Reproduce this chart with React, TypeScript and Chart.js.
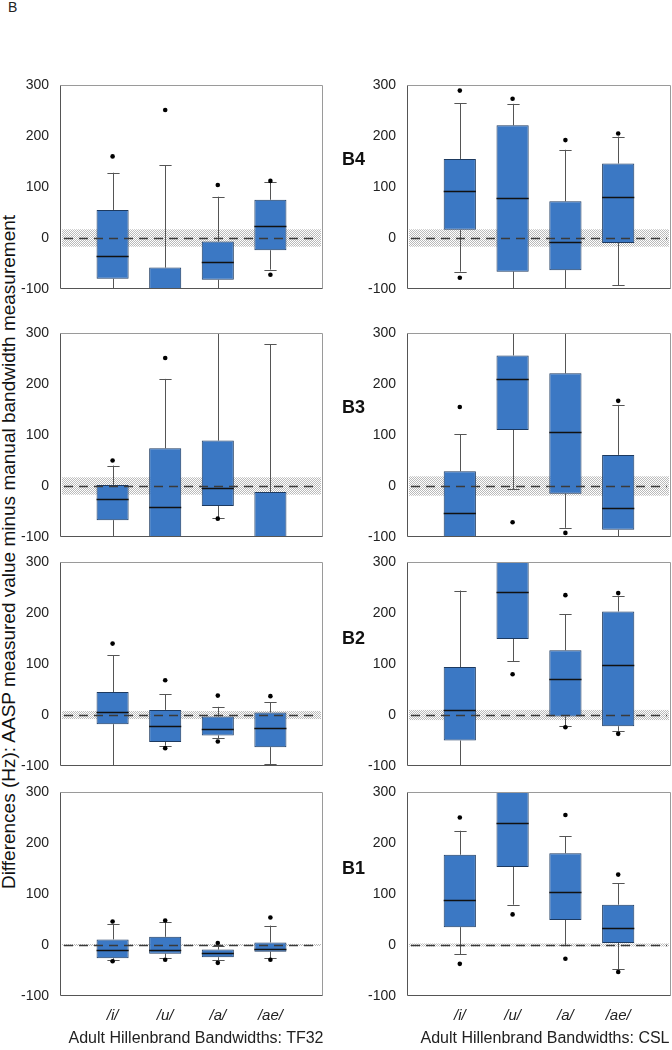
import React, { useEffect, useRef } from 'react';
import { Chart, registerables } from 'chart.js';

Chart.register(...registerables);
Chart.defaults.font.family = "'Liberation Sans', Arial, sans-serif";

const categories = ['/i/', '/u/', '/a/', '/ae/'];
const yMin = -100;
const yMax = 300;
const yStep = 100;

// each box: [whiskerLow, q1, median, q3, whiskerHigh]
const tf32Row1Boxes = [[-120, -80, -35, 55, 128], [-200, -130, -110, -58, 143], [-120, -82, -47, -7, 81], [-62, -24, 23, 75, 109]];
const tf32Row1Outliers = [[160], [251], [104], [112, -72]];
const cslB4Boxes = [[-66, 16, 92, 155, 264], [-130, -66, 79, 221, 263], [-120, -63, -8, 72, 173], [-93, -10, 81, 146, 199]];
const cslB4Outliers = [[289, -78], [273], [192], [205]];

const tf32Row2Boxes = [[-98, -67, -25, 2, 40], [-200, -130, -42, 74, 210], [-63, -39, -4, 89, 340], [-200, -140, -120, -12, 278]];
const tf32Row2Outliers = [[50], [251], [-64], []];
const cslB3Boxes = [[-160, -120, -53, 29, 101], [-6, 110, 209, 256, 340], [-82, -15, 105, 221, 340], [-120, -86, -44, 61, 159]];
const cslB3Outliers = [[155], [-71], [-92], [167]];

const tf32Row3Boxes = [[-110, -18, 6, 45, 117], [-60, -53, -22, 10, 41], [-46, -40, -28, -3, 16], [-96, -63, -26, 5, 25]];
const tf32Row3Outliers = [[140], [68, -65], [38, -52], [37]];
const cslB2Boxes = [[-130, -50, 9, 94, 244], [105, 149, 241, 320, 380], [-21, -3, 70, 127, 198], [-31, -22, 98, 203, 233]];
const cslB2Outliers = [[], [80], [235, -24], [239, -37]];

const tf32Row4Boxes = [[-30, -26, -10, 11, 41], [-25, -17, -10, 16, 45], [-30, -24, -15, -9, -1], [-26, -13, -7, 5, 38]];
const tf32Row4Outliers = [[46, -32], [48, -29], [4, -35], [54, -29]];
const cslB1Boxes = [[-18, 35, 88, 177, 224], [79, 153, 240, 320, 380], [0, 49, 104, 180, 213], [-48, 4, 33, 79, 121]];
const cslB1Outliers = [[250, -37], [60], [255, -27], [138, -53]];

const tf32BandHalf = [17, 17, 8, 2];
const cslBandHalf = [17, 19, 10, 3];
const panelLabels = ['B4', 'B3', 'B2', 'B1'];
const xTitleLeft = 'Adult Hillenbrand Bandwidths: TF32';
const xTitleRight = 'Adult Hillenbrand Bandwidths: CSL';
const yTitle = 'Differences (Hz): AASP measured value minus manual bandwidth measurement';

const BOX_FILL = '#3b78c4';
const BOX_EDGE = '#1d3a60';
const WHISKER = '#555555';

function makeStipple(ctx: CanvasRenderingContext2D) {
  const c = document.createElement('canvas');
  c.width = 2;
  c.height = 2;
  const g = c.getContext('2d')!;
  g.fillStyle = '#bababa';
  g.fillRect(0, 0, 1, 1);
  g.fillRect(1, 1, 1, 1);
  return ctx.createPattern(c, 'repeat');
}

function makeBoxPlugin(boxes: number[][], outliers: number[][], band: number) {
  return {
    id: 'boxplotDecor',
    beforeDatasetsDraw(chart: any) {
      const { ctx, chartArea: a, scales } = chart;
      const y = scales.y;
      ctx.save();
      ctx.beginPath();
      ctx.rect(a.left, a.top, a.right - a.left, a.bottom - a.top);
      ctx.clip();
      const yT = y.getPixelForValue(band);
      const yB = y.getPixelForValue(-band);
      const pat = makeStipple(ctx);
      if (pat) ctx.fillStyle = pat;
      ctx.fillRect(a.left + 2, yT, a.right - a.left - 4, Math.max(1.5, yB - yT));
      const meta = chart.getDatasetMeta(0);
      boxes.forEach((b, i) => {
        const el: any = meta.data[i + 1];
        if (!el) return;
        const x = Math.round(el.x) + 0.5;
        ctx.strokeStyle = WHISKER;
        ctx.lineWidth = 1;
        ctx.beginPath();
        ctx.moveTo(x, y.getPixelForValue(b[3]));
        ctx.lineTo(x, y.getPixelForValue(b[4]));
        ctx.moveTo(x, y.getPixelForValue(b[1]));
        ctx.lineTo(x, y.getPixelForValue(b[0]));
        ctx.stroke();
        const cw = el.width * 0.19;
        ctx.lineWidth = 1.2;
        ctx.beginPath();
        const yh = Math.round(y.getPixelForValue(b[4])) + 0.5;
        const yl = Math.round(y.getPixelForValue(b[0])) + 0.5;
        ctx.moveTo(x - cw, yh);
        ctx.lineTo(x + cw, yh);
        ctx.moveTo(x - cw, yl);
        ctx.lineTo(x + cw, yl);
        ctx.stroke();
      });
      ctx.restore();
    },
    afterDatasetsDraw(chart: any) {
      const { ctx, chartArea: a, scales } = chart;
      const y = scales.y;
      const meta = chart.getDatasetMeta(0);
      ctx.save();
      ctx.beginPath();
      ctx.rect(a.left, a.top, a.right - a.left, a.bottom - a.top);
      ctx.clip();
      boxes.forEach((b, i) => {
        const el: any = meta.data[i + 1];
        if (!el) return;
        const ym = Math.round(y.getPixelForValue(b[2])) + 0.5;
        ctx.strokeStyle = '#111111';
        ctx.lineWidth = 1.3;
        ctx.beginPath();
        ctx.moveTo(el.x - el.width / 2, ym);
        ctx.lineTo(el.x + el.width / 2, ym);
        ctx.stroke();
        ctx.fillStyle = '#000000';
        (outliers[i] || []).forEach((v) => {
          ctx.beginPath();
          ctx.arc(el.x, y.getPixelForValue(v), 2.3, 0, Math.PI * 2);
          ctx.fill();
        });
      });
      const y0 = Math.round(y.getPixelForValue(0)) + 0.5;
      ctx.strokeStyle = '#3a3a3a';
      ctx.lineWidth = 1.3;
      ctx.setLineDash([9, 6]);
      ctx.beginPath();
      ctx.moveTo(a.left + 4, y0);
      ctx.lineTo(a.right - 4, y0);
      ctx.stroke();
      ctx.setLineDash([]);
      ctx.restore();

      ctx.save();
      ctx.lineWidth = 1;
      const L = Math.round(a.left) + 0.5;
      const R = Math.round(a.right) - 0.5;
      const T = Math.round(a.top) + 0.5;
      const B = Math.round(a.bottom) - 0.5;
      ctx.strokeStyle = '#9a9a9a';
      ctx.beginPath();
      ctx.moveTo(L, T);
      ctx.lineTo(R, T);
      ctx.lineTo(R, B);
      ctx.stroke();
      ctx.strokeStyle = '#555555';
      ctx.beginPath();
      ctx.moveTo(L, T);
      ctx.lineTo(L, B);
      ctx.lineTo(R, B);
      ctx.stroke();
      ctx.restore();
    },
  };
}

type PanelProps = {
  boxes: number[][];
  outliers: number[][];
  band: number;
  left: number;
  top: number;
  height: number;
  padRight: number;
  showX: boolean;
};

function Panel({ boxes, outliers, band, left, top, height, padRight, showX }: PanelProps) {
  const ref = useRef<HTMLCanvasElement>(null);
  useEffect(() => {
    const chart = new Chart(ref.current as HTMLCanvasElement, {
      type: 'bar',
      data: {
        labels: ['', ...categories, ''],
        datasets: [
          {
            data: [null, ...boxes.map((b) => [b[1], b[3]]), null] as any,
            backgroundColor: BOX_FILL,
            borderColor: BOX_EDGE,
            borderWidth: 1,
            borderSkipped: false,
            barPercentage: 0.61,
            categoryPercentage: 1,
            clip: 0,
          } as any,
        ],
      },
      options: {
        animation: false,
        responsive: false,
        maintainAspectRatio: false,
        events: [],
        layout: { padding: { top: 10, bottom: showX ? 0 : 10, left: 0, right: padRight } },
        plugins: { legend: { display: false }, tooltip: { enabled: false } },
        scales: {
          x: {
            display: showX,
            offset: false,
            grid: { display: false, drawTicks: false },
            border: { display: false },
            ticks: {
              autoSkip: false,
              maxRotation: 0,
              padding: 11,
              color: '#222222',
              font: { size: 15, style: 'italic' },
            },
            afterFit: (s: any) => {
              s.paddingLeft = 0;
              s.paddingRight = 0;
              if (showX) s.height = 54;
            },
          } as any,
          y: {
            min: yMin,
            max: yMax,
            grid: { display: false, drawTicks: false },
            border: { display: false },
            ticks: { stepSize: yStep, padding: 11, color: '#222222', font: { size: 14 } },
            afterFit: (s: any) => {
              s.width = 50;
              s.paddingTop = 0;
              s.paddingBottom = 0;
            },
          } as any,
        },
      },
      plugins: [makeBoxPlugin(boxes, outliers, band)],
    });
    return () => chart.destroy();
  }, []);
  return (
    <canvas
      ref={ref}
      width={315}
      height={height}
      style={{ position: 'absolute', left, top, width: 315, height }}
    />
  );
}

const plotTops = [85, 333, 562, 792];
const leftBoxes = [tf32Row1Boxes, tf32Row2Boxes, tf32Row3Boxes, tf32Row4Boxes];
const leftOutliers = [tf32Row1Outliers, tf32Row2Outliers, tf32Row3Outliers, tf32Row4Outliers];
const rightBoxes = [cslB4Boxes, cslB3Boxes, cslB2Boxes, cslB1Boxes];
const rightOutliers = [cslB4Outliers, cslB3Outliers, cslB2Outliers, cslB1Outliers];
const labelCenters = [159, 407, 638, 868];

export default function App() {
  return (
    <div
      style={{
        position: 'fixed',
        left: 0,
        top: 0,
        width: 672,
        height: 1050,
        background: '#ffffff',
        fontFamily: "'Liberation Sans', Arial, sans-serif",
        color: '#222222',
        overflow: 'hidden',
      }}
    >
      <div style={{ position: 'absolute', left: 8, top: 0, fontSize: 14, lineHeight: '14px' }}>B</div>
      <div
        style={{
          position: 'absolute',
          left: 9 - 400,
          top: 552 - 11,
          width: 800,
          height: 22,
          lineHeight: '22px',
          fontSize: 19,
          textAlign: 'center',
          whiteSpace: 'nowrap',
          color: '#111111',
          transform: 'rotate(-90deg)',
          transformOrigin: 'center center',
        }}
      >
        {yTitle}
      </div>
      {plotTops.map((pt, r) => {
        const last = r === 3;
        const top = pt - 10;
        const height = last ? 1050 - top : 224;
        return (
          <React.Fragment key={r}>
            <Panel
              boxes={leftBoxes[r]}
              outliers={leftOutliers[r]}
              band={tf32BandHalf[r]}
              left={10}
              top={top}
              height={height}
              padRight={2}
              showX={last}
            />
            <Panel
              boxes={rightBoxes[r]}
              outliers={rightOutliers[r]}
              band={cslBandHalf[r]}
              left={357}
              top={top}
              height={height}
              padRight={1}
              showX={last}
            />
            <div
              style={{
                position: 'absolute',
                left: 342,
                top: labelCenters[r] - 11,
                height: 22,
                lineHeight: '22px',
                fontSize: 18,
                fontWeight: 'bold',
                color: '#111111',
              }}
            >
              {panelLabels[r]}
            </div>
          </React.Fragment>
        );
      })}
      <div
        style={{
          position: 'absolute',
          left: 196 - 150,
          top: 1038 - 10,
          width: 300,
          height: 20,
          lineHeight: '20px',
          fontSize: 16,
          textAlign: 'center',
          whiteSpace: 'nowrap',
        }}
      >
        {xTitleLeft}
      </div>
      <div
        style={{
          position: 'absolute',
          left: 545 - 150,
          top: 1038 - 10,
          width: 300,
          height: 20,
          lineHeight: '20px',
          fontSize: 16,
          textAlign: 'center',
          whiteSpace: 'nowrap',
        }}
      >
        {xTitleRight}
      </div>
    </div>
  );
}
